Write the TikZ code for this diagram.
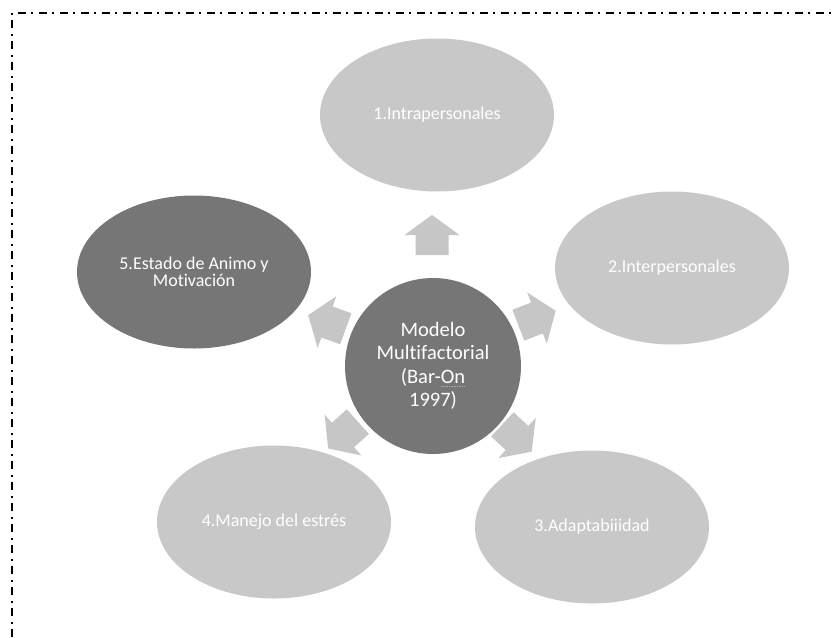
\documentclass[tikz,border=0pt]{standalone}
\usepackage{fontspec}
\setmainfont{Carlito}[Ligatures=NoCommon]
\usetikzlibrary{shapes.geometric}
\definecolor{petal}{RGB}{200,200,200}
\definecolor{hub}{RGB}{118,118,118}
\definecolor{pointer}{RGB}{198,198,198}
\definecolor{squiggle}{RGB}{170,170,170}
% faint dotted spell-check mark under a word
\newcommand\spellmark[1]{\setbox0\hbox{#1}%
  \rlap{\raisebox{-0.35ex}{\textcolor{squiggle}{\hbox to\wd0{%
    \xleaders\hbox{\rule{0.8pt}{0.5pt}\kern0.8pt}\hfil}}}}\box0}
\begin{document}
\begin{tikzpicture}[x=1pt,y=-1pt,
  petalnode/.style={ellipse, fill=petal, minimum width=234pt, minimum height=153pt,
    inner sep=0pt, text=white, align=center, font=\fontsize{18}{17.5}\selectfont},
  hubnode/.style={circle, fill=hub, minimum size=176pt, inner sep=0pt,
    text=white, align=center, font=\fontsize{20.5}{23.5}\selectfont},
  frame/.style={line width=1.6pt, dash pattern=on 8pt off 5pt on 2pt off 6pt},
  blockarrow/.pic={\fill[pointer] (20,0) -- (0,27.5) -- (0,16.5) -- (-20,16.5)
      -- (-20,-16.5) -- (0,-16.5) -- (0,-27.5) -- cycle;}]
\useasboundingbox (0,0) rectangle (832,637);

% dash-dot frame, top and left edges
\draw[frame] (12,637) -- (12,13) -- (832,13);

% central hub
\node[hubnode] (hub) at (433,366) {Modelo\\Multifactorial\\(Bar-\spellmark{On}\\1997)};

% five factors around the hub
\node[petalnode] (f1) at (437,115) {1.Intrapersonales};
\node[petalnode] (f2) at (672,268) {2.Interpersonales};
\node[petalnode] (f3) at (592,527) {3.Adaptabiiidad};
\node[petalnode] (f4) at (274,522) {4.Manejo del estrés};
\node[petalnode, fill=hub] (f5) at (194,272) {5.Estado de Animo y\\Motivación};

% block arrows radiating from the hub
\pic[rotate=90] at (432,235) {blockarrow};
\pic[rotate=21] at (537,318) {blockarrow};
\pic[rotate=-43] at (517,438) {blockarrow};
\pic[rotate=160] at (327,322) {blockarrow};
\pic[rotate=-138] at (343,435) {blockarrow};
\end{tikzpicture}
\end{document}
